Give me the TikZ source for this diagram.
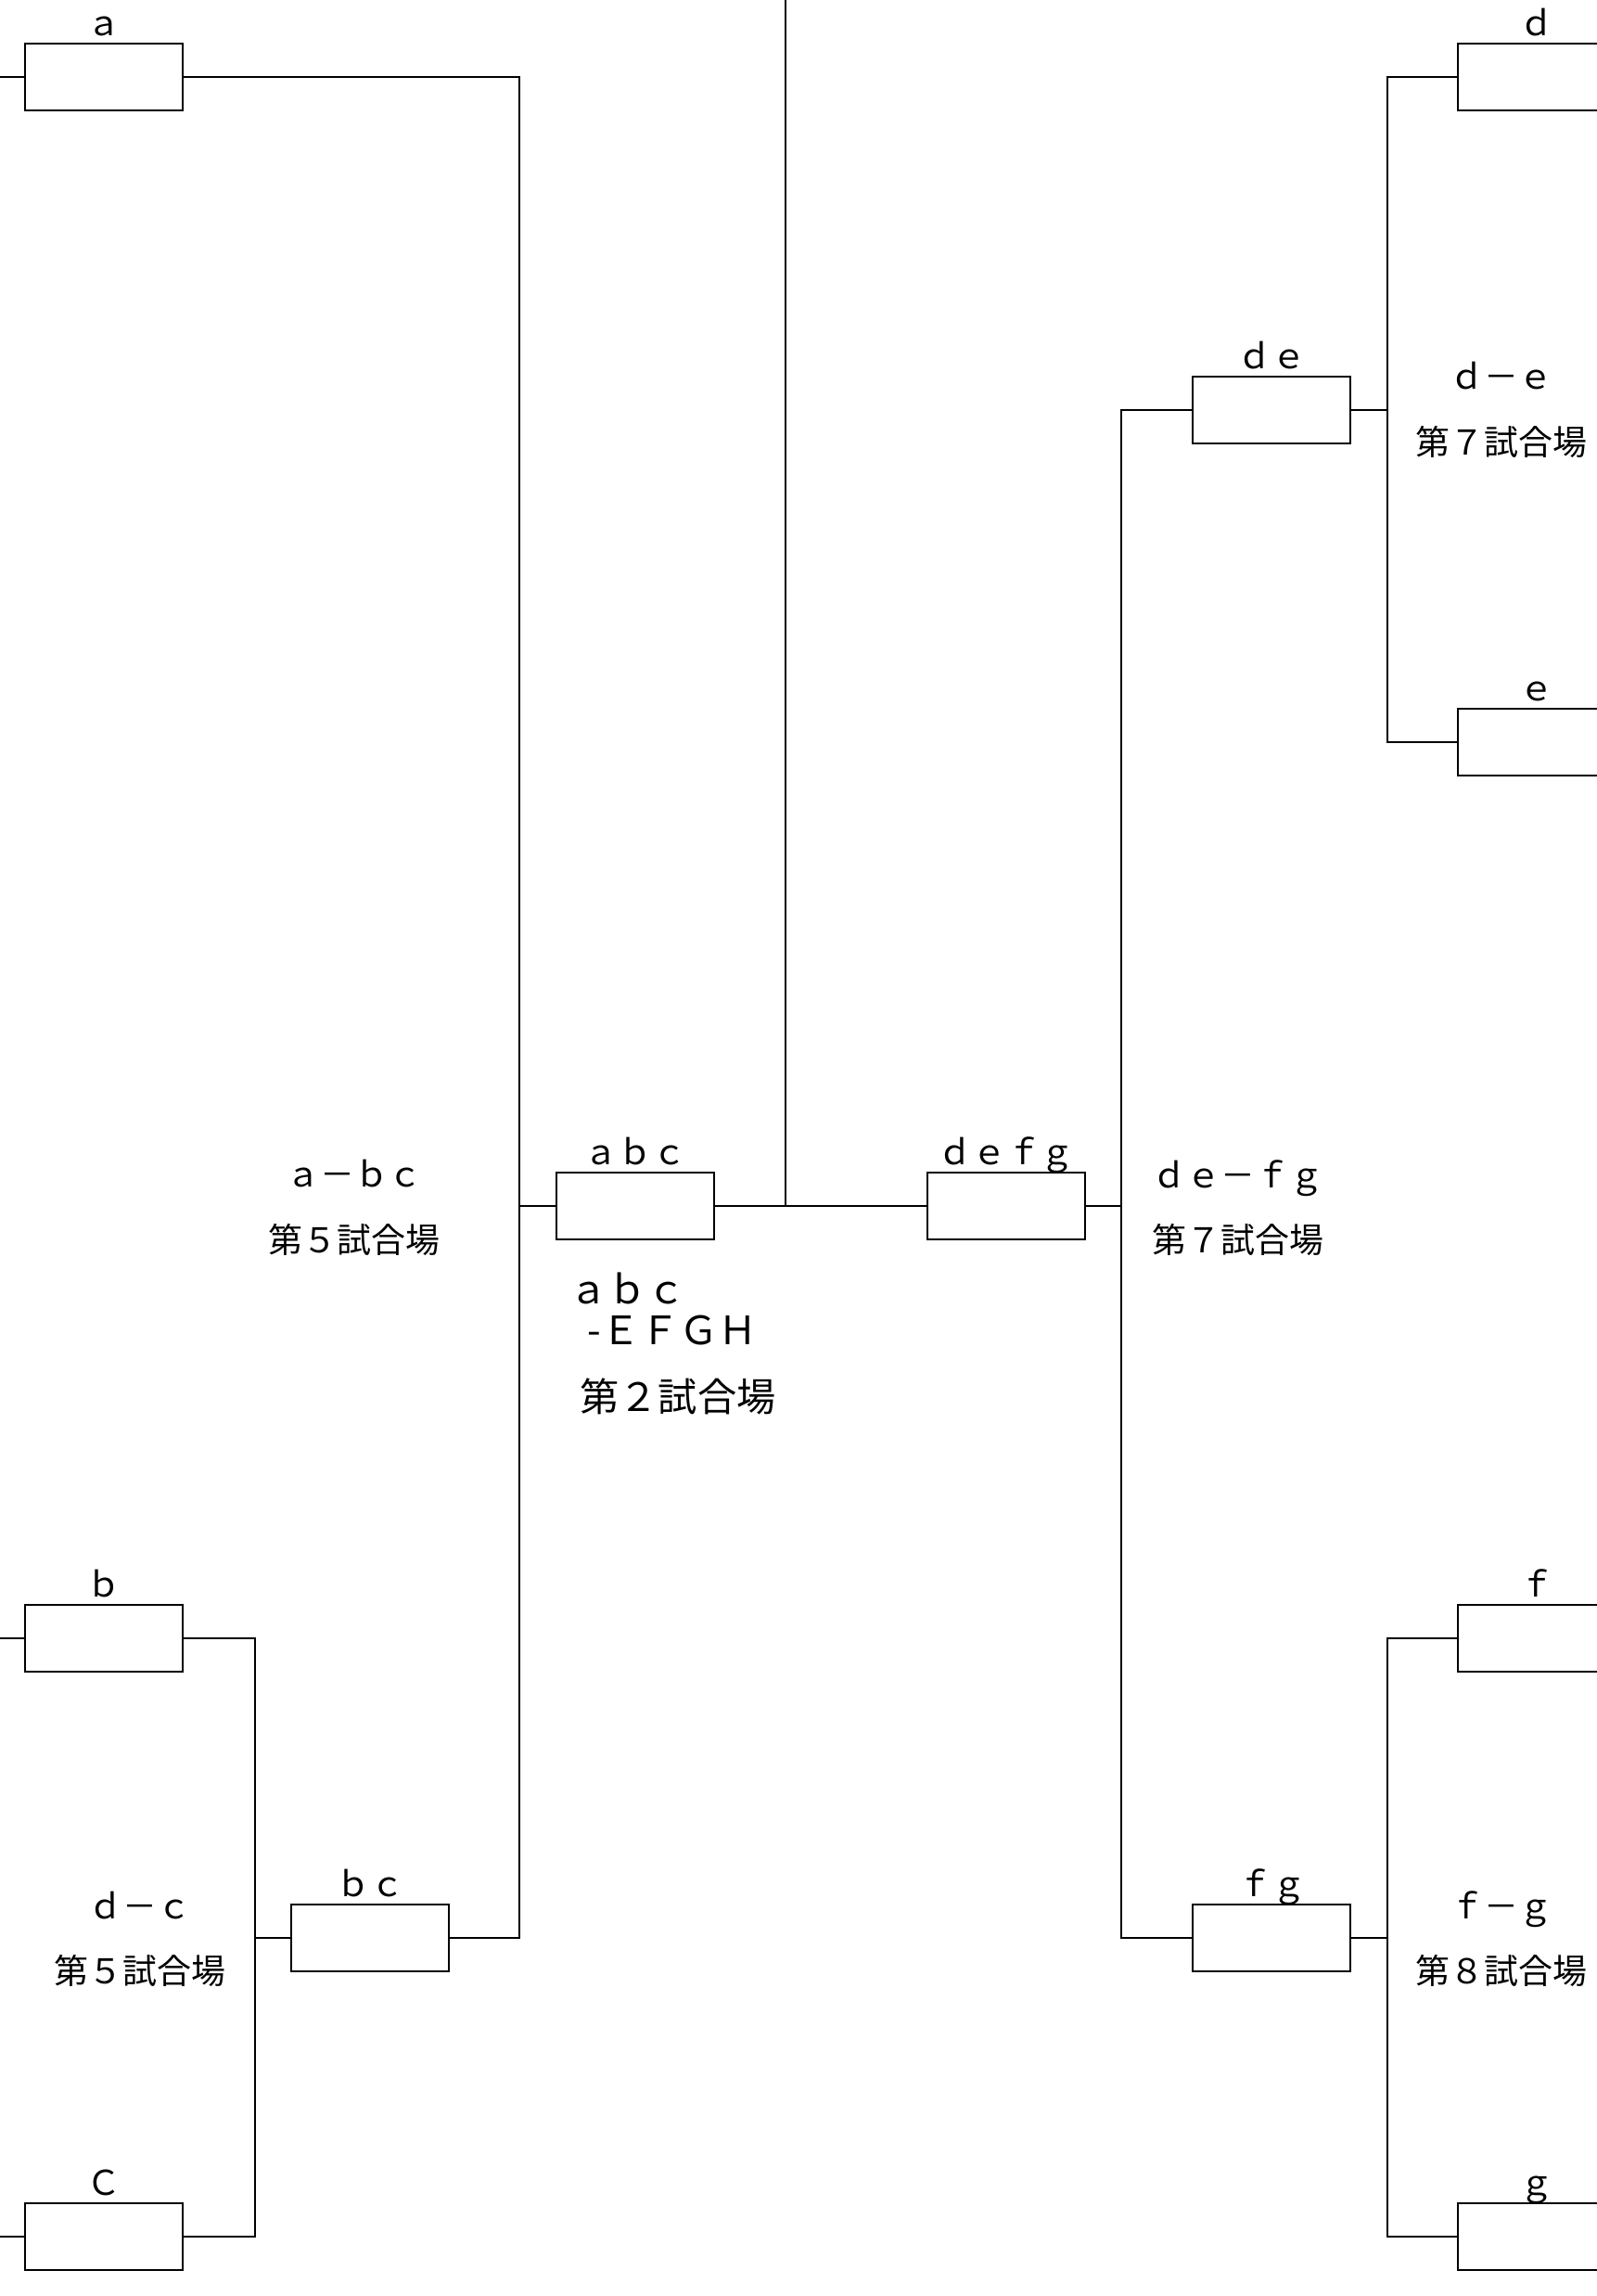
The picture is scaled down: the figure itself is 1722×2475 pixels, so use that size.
\documentclass[tikz,border=0pt]{standalone}
\usepackage{fontspec}
\setmainfont{Noto Sans CJK JP}
\usetikzlibrary{positioning}

\begin{document}
\begin{tikzpicture}[x=0.01cm, y=-0.01cm, line width=0.8pt,
  every node/.style={font=\fontsize{10.5}{12}\selectfont},
  slot/.style={draw, fill=white, minimum width=1.7cm, minimum height=0.72cm, inner sep=0pt},
  teamlbl/.style={inner sep=0pt, text depth=0pt},
  game/.style={align=center, inner sep=0pt, font=\fontsize{10.5}{20}\selectfont},
  finlbl/.style={inner sep=0pt, font=\fontsize{12}{14}\selectfont}]
\useasboundingbox (0,0) rectangle (1722,2475);
\clip (0,0) rectangle (1722,2475);
\coordinate (edge) at (0,0);
\coordinate (top) at (847,0);

% Left block
\node[slot] (a) at (112,83) {};
\node[slot] (b) at (112,1766) {};
\node[slot] (c) at (112,2411) {};
\node[slot] (bc) at (399,2089) {};
\node[slot] (abc) at (685,1300) {};
\node[teamlbl, above=0.6mm of a] (la) {ａ};
\node[teamlbl, above=0.6mm of b] (lb) {ｂ};
\node[teamlbl, above=0.6mm of c] (lc) {Ｃ};
\node[teamlbl, above=0.6mm of bc] (lbc) {ｂｃ};
\node[teamlbl, above=0.6mm of abc] (labc) {ａｂｃ};

% Right block
\node[slot] (defg) at (1085,1300) {};
\node[slot] (de) at (1371,442) {};
\node[slot] (fg) at (1371,2089) {};
\node[slot] (d) at (1657,83) {};
\node[slot] (e) at (1657,800) {};
\node[slot] (f) at (1657,1766) {};
\node[slot] (g) at (1657,2411) {};
\node[teamlbl, above=0.6mm of defg] (ldefg) {ｄｅｆｇ};
\node[teamlbl, above=0.6mm of de] (lde) {ｄｅ};
\node[teamlbl, above=0.6mm of fg] (lfg) {ｆｇ};
\node[teamlbl, above=0.6mm of d] (ld) {ｄ};
\node[teamlbl, above=0.6mm of e] (le) {ｅ};
\node[teamlbl, above=0.6mm of f] (lf) {ｆ};
\node[teamlbl, above=0.6mm of g] (lg) {ｇ};

% Junctions
\coordinate (jb) at (275,2089);
\coordinate (jl) at (560,1300);
\coordinate (jr) at (1209,1300);
\coordinate (jd) at (1496,442);
\coordinate (jf) at (1496,2089);

% Lines
\foreach \t in {a,b,c} \draw (\t.west) -- (\t.west -| edge);
\draw (b.east) -| (jb) |- (c.east);
\draw (jb) -- (bc.west);
\draw (a.east) -| (jl) |- (bc.east);
\draw (jl) -- (abc.west);
\draw (top) |- (abc.east);
\draw (abc.east) -- (defg.west);
\draw (defg.east) -- (jr);
\draw (de.west) -| (jr) |- (fg.west);
\draw (d.west) -| (jd) |- (e.west);
\draw (de.east) -- (jd);
\draw (f.west) -| (jf) |- (g.west);
\draw (fg.east) -- (jf);

% Games
\node[game] (g5a) at (382,1302) {ａ－ｂｃ\\第５試合場};
\node[game] (g5b) at (151,2090) {ｄ－ｃ\\第５試合場};
\node[game] (g7a) at (1335,1302) {ｄｅ－ｆｇ\\第７試合場};
\node[game] (g7b) at (1619,442) {ｄ－ｅ\\第７試合場};
\node[game] (g8) at (1619,2090) {ｆ－ｇ\\第８試合場};
\node[finlbl, anchor=west] (fin1) at (612,1389) {ａｂｃ};
\node[finlbl, anchor=west] (fin2) at (632,1434) {-ＥＦＧＨ};
\node[finlbl] (fin3) at (731,1505) {第２試合場};
\end{tikzpicture}
\end{document}
